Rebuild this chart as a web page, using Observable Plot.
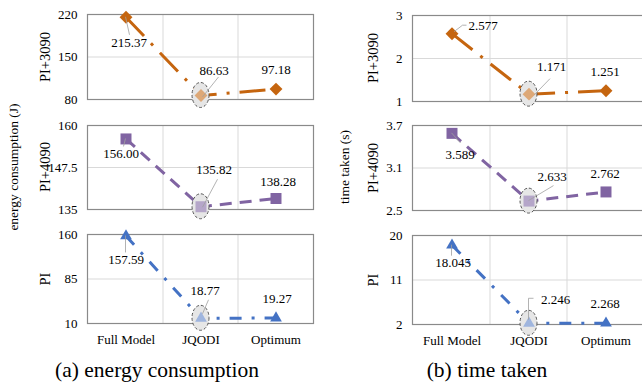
<!DOCTYPE html>
<html>
<head>
<meta charset="utf-8">
<script src="https://cdn.jsdelivr.net/npm/d3@7"></script>
<script src="https://cdn.jsdelivr.net/npm/@observablehq/plot@0.6"></script>
<style>
  body { margin: 0; background: #fff; }
  #chart { position: relative; width: 642px; height: 385px; overflow: hidden; background: #fff;
           font-family: "Liberation Serif", "Times New Roman", serif; color: #000; }
  #chart svg { position: absolute; font-family: "Liberation Serif", "Times New Roman", serif !important; }
  #chart svg text { font-family: "Liberation Serif", "Times New Roman", serif; }
  .t { position: absolute; white-space: nowrap; transform: translate(-50%, -50%); line-height: 1; }
  .r { transform: translate(-50%, -50%) rotate(-90deg); }
</style>
</head>
<body>
<div id="chart"></div>
<script>
// ---------- data ----------
const categories = ["Full Model", "JQODI", "Optimum"];
const seriesNames = ["PI+3090", "PI+4090", "PI"];

const energyPI3090 = [215.37, 86.63, 97.18];
const energyPI4090 = [156.00, 135.82, 138.28];
const energyPI     = [157.59, 18.77, 19.27];

const timePI3090 = [2.577, 1.171, 1.251];
const timePI4090 = [3.589, 2.633, 2.762];
const timePI     = [18.045, 2.246, 2.268];

const energyTicks3090 = [80, 150, 220];
const energyTicks4090 = [135, 147.5, 160];
const energyTicksPI   = [10, 85, 160];
const timeTicks3090 = [1, 2, 3];
const timeTicks4090 = [2.5, 3.1, 3.7];
const timeTicksPI   = [2, 11, 20];

// ---------- styling / layout ----------
const seriesStyle = [
  {color: "#c5650f", light: "#dda877", symbol: "diamond2", r: 5.8, dash: "26 10 3 10"},
  {color: "#8064a2", light: "#b5a6c9", symbol: "square",   r: 6.2, dash: "12 8"},
  {color: "#4472c4", light: "#9fb5de", symbol: "triangle2", r: 5.6, dash: "12 10 3 10"}
];

const panels = [
  {caption: "(a) energy consumption", title: "energy consumption (J)", fmt: ".2f",
   left: 0, width: 330, frameX: [87, 313], frameY: [[14, 99], [125, 209], [234, 323]],
   titleX: 14, nameX: 45, captionX: 157,
   values: [energyPI3090, energyPI4090, energyPI],
   ticks: [energyTicks3090, energyTicks4090, energyTicksPI],
   labels: [
     [{dx: 3, dy: 26, lead: [[0, 0], [4, 18]]}, {dx: 13, dy: -25, lead: [[2, 2], [18, -18]]}, {dx: 0, dy: -19}],
     [{dx: -5, dy: 15, lead: [[0, 0], [-2, 8]]}, {dx: 13, dy: -37, lead: [[2, 1], [17, -27]]}, {dx: 2, dy: -17}],
     [{dx: 0, dy: 24, lead: [[0, 0], [0, 17]]}, {dx: 4, dy: -27, lead: [[2, -4], [8, -18]]}, {dx: 1, dy: -19}]
   ]},
  {caption: "(b) time taken", title: "time taken (s)", fmt: ".3f",
   left: 330, width: 330, frameX: [412, 645], frameY: [[15, 101], [125, 210], [235, 324]],
   titleX: 345, nameX: 373, captionX: 487,
   values: [timePI3090, timePI4090, timePI],
   ticks: [timeTicks3090, timeTicks4090, timeTicksPI],
   labels: [
     [{dx: 31, dy: -7.5, lead: [[2.5, -1.5], [11, -8], [15, -8]]}, {dx: 22.5, dy: -27, lead: [[6, 1], [21.5, -15]]}, {dx: -1, dy: -19}],
     [{dx: 8, dy: 21, lead: [[0, 0], [9, 10]]}, {dx: 23, dy: -24.5, lead: [[0, 0], [25, -15]]}, {dx: -1, dy: -18}],
     [{dx: 1, dy: 18, lead: [[0, 0], [0, 11]]}, {dx: 26.5, dy: -23.5, lead: [[0, -3], [0, -24.5], [5, -24.5]]}, {dx: -1, dy: -19.5}]
   ]}
];

const PAD_TOP = 12, PAD_BOTTOM = 34;
const chart = document.getElementById("chart");

function custom(draw) {
  return (index, scales, values, dimensions) => {
    const g = d3.create("svg:g");
    const x = scales.x;
    const bw = x.bandwidth ? x.bandwidth() : 0;
    const cx = c => x(c) + bw / 2;
    draw(g, {x, cx, y: scales.y, bw}, dimensions);
    return g.node();
  };
}

function addText(text, cx, cy, size, rotate) {
  const d = document.createElement("div");
  d.className = "t" + (rotate ? " r" : "");
  d.style.left = cx + "px";
  d.style.top = cy + "px";
  d.style.fontSize = size + "px";
  d.textContent = text;
  chart.appendChild(d);
}

panels.forEach(p => {
  const fmt = d3.format(p.fmt);
  p.values.forEach((vals, s) => {
    const st = seriesStyle[s];
    const ticks = p.ticks[s];
    const [fy0, fy1] = p.frameY[s];
    const isBottom = s === p.values.length - 1;
    const rows = categories.map((c, i) => ({c, v: vals[i]}));
    const marks = [
      Plot.ruleY([ticks[1]], {stroke: "#d9d9d9", strokeWidth: 1}),
      custom((g, sc, dim) => {
        categories.slice(1).forEach(c => {
          g.append("line")
            .attr("x1", sc.x(c)).attr("x2", sc.x(c))
            .attr("y1", dim.marginTop).attr("y2", dim.height - dim.marginBottom)
            .attr("stroke", "#d9d9d9").attr("stroke-width", 1);
        });
      }),
      Plot.frame({stroke: "#8a8a8a", strokeWidth: 1.2}),
      Plot.axisY(ticks, {tickSize: 0, tickPadding: 10, tickFormat: d => String(d), fontSize: 13, label: null}),
      ...(isBottom ? [Plot.axisX({tickSize: 0, tickPadding: 11, fontSize: 13, label: null})] : []),
      Plot.line(rows, {x: "c", y: "v", stroke: st.color, strokeWidth: 3, strokeDasharray: st.dash, strokeLinecap: "butt"}),
      custom((g, sc) => {
        g.append("ellipse")
          .attr("cx", sc.cx(categories[1])).attr("cy", sc.y(vals[1]))
          .attr("rx", 8.5).attr("ry", 12.5)
          .attr("fill", "#e6e6e6").attr("stroke", "#555").attr("stroke-width", 1)
          .attr("stroke-dasharray", "3 2");
      }),
      Plot.dot(rows.filter((d, i) => i !== 1), {x: "c", y: "v", symbol: st.symbol, r: st.r, fill: st.color}),
      Plot.dot(rows.filter((d, i) => i === 1), {x: "c", y: "v", symbol: st.symbol, r: st.r, fill: st.light}),
      custom((g, sc) => {
        p.labels[s].forEach((lab, i) => {
          if (!lab.lead) return;
          const px = sc.cx(categories[i]), py = sc.y(vals[i]);
          g.append("polyline")
            .attr("points", lab.lead.map(([ox, oy]) => `${px + ox},${py + oy}`).join(" "))
            .attr("fill", "none").attr("stroke", "#a0a0a0").attr("stroke-width", 0.8);
        });
      }),
      ...rows.map((d, i) => Plot.text([d], {
        x: "c", y: "v", text: r => fmt(r.v),
        dx: p.labels[s][i].dx, dy: p.labels[s][i].dy, fontSize: 13, fill: "#000"
      }))
    ];
    const xOpts = {type: "band", domain: categories, padding: 0};
    if (!isBottom) xOpts.axis = null;
    const plot = Plot.plot({
      width: p.width,
      height: (fy1 - fy0) + PAD_TOP + PAD_BOTTOM,
      marginLeft: p.frameX[0] - p.left,
      marginRight: p.left + p.width - p.frameX[1],
      marginTop: PAD_TOP,
      marginBottom: PAD_BOTTOM,
      style: {background: "transparent", overflow: "visible", fontFamily: "'Liberation Serif', 'Times New Roman', serif", fontSize: "13px", color: "#000"},
      x: xOpts,
      y: {domain: [ticks[0], ticks[ticks.length - 1]]},
      marks
    });
    plot.style.left = p.left + "px";
    plot.style.top = (fy0 - PAD_TOP) + "px";
    plot.style.maxWidth = "none";
    chart.appendChild(plot);
    addText(seriesNames[s], p.nameX, (fy0 + fy1) / 2, 14.5, true);
  });
  addText(p.title, p.titleX, 167, 13.5, true);
  addText(p.caption, p.captionX, 371, 21.5, false);
});
</script>
</body>
</html>
